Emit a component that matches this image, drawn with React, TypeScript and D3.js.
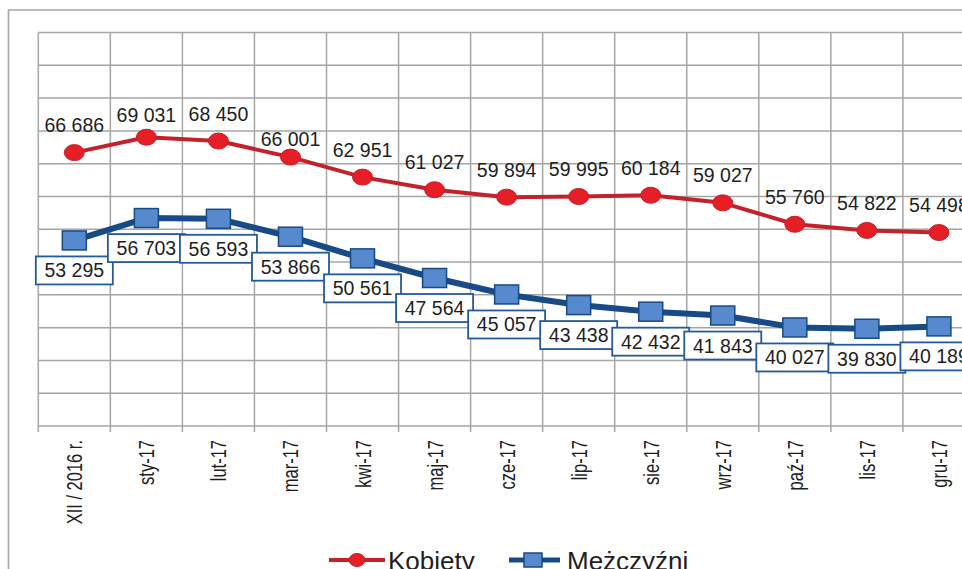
import React from 'react';
import * as d3 from 'd3';

const categories = [
  'XII / 2016 r.', 'sty-17', 'lut-17', 'mar-17', 'kwi-17', 'maj-17', 'cze-17',
  'lip-17', 'sie-17', 'wrz-17', 'paź-17', 'lis-17', 'gru-17',
];
const kobiety = [66686, 69031, 68450, 66001, 62951, 61027, 59894, 59995, 60184, 59027, 55760, 54822, 54498];
const mezczyzni = [53295, 56703, 56593, 53866, 50561, 47564, 45057, 43438, 42432, 41843, 40027, 39830, 40189];
const yGridValues = [25000, 30000, 35000, 40000, 45000, 50000, 55000, 60000, 65000, 70000, 75000, 80000, 85000];
const seriesNames = ['Kobiety', 'Mężczyźni'];
// manual label nudges (px, downward) for the Kobiety data labels
const kobietyLabelShift = [0, 5, 0, 9, 0, 0, 0, 0, 0, 0, 0, 0, 0];

const FONT = '"Liberation Sans", Arial, Helvetica, sans-serif';
const RED_LINE = '#c3212b';
const RED_FILL = '#e61f27';
const BLUE_LINE = '#184a85';
const BLUE_FILL = '#5689cd';
const GRID = '#a6a6a6';
const TEXT = '#1e1e1e';

const fmtLocale = d3.formatLocale({ decimal: ',', thousands: ' ', grouping: [3], currency: ['', ''] });
const fmt = fmtLocale.format(',d');

export default function App() {
  const W = 962;
  const H = 569;
  const left = 38.3;
  const band = 72.05;
  const top = 32.5;
  const bottom = 426;

  const x = d3.scaleBand<string>().domain(categories).range([left, left + band * categories.length]).padding(0);
  const y = d3.scaleLinear().domain([25000, 85000]).range([bottom, top]);
  const cx = (i: number) => (x(categories[i]) as number) + x.bandwidth() / 2;

  const line = d3.line<number>().x((_, i) => cx(i)).y((d) => y(d));

  const boundaries = categories.map((c) => x(c) as number).concat([x.range()[1]]);
  const xEnd = x.range()[1];

  const boxW = 77;
  const boxH = 28;

  return (
    <svg
      width={W}
      height={H}
      viewBox={`0 0 ${W} ${H}`}
      style={{ position: 'absolute', left: 0, top: 0, background: '#fff' }}
      fontFamily={FONT}
    >
      <rect x={0} y={0} width={W} height={H} fill="#fff" />
      {/* outer frame */}
      <path d={`M8.5,${H + 5} V10 H${W + 5}`} fill="none" stroke={GRID} strokeWidth={1.6} />

      {/* horizontal gridlines */}
      {yGridValues.map((v) => (
        <line key={'h' + v} x1={left} x2={xEnd} y1={y(v)} y2={y(v)} stroke={GRID} strokeWidth={1.5} />
      ))}
      {/* vertical gridlines + ticks */}
      {boundaries.map((bx, i) => (
        <line key={'v' + i} x1={bx} x2={bx} y1={top} y2={bottom + 6} stroke={GRID} strokeWidth={1.5} />
      ))}

      {/* x axis labels */}
      {categories.map((c, i) => (
        <text
          key={'xl' + i}
          transform={`translate(${cx(i) + 8},440) rotate(-90) scale(0.75,1)`}
          textAnchor="end"
          fontSize={22}
          fill={TEXT}
        >
          {c}
        </text>
      ))}

      {/* Kobiety series */}
      <path d={line(kobiety) as string} fill="none" stroke={RED_LINE} strokeWidth={4} strokeLinejoin="round" />
      {kobiety.map((v, i) => (
        <ellipse key={'rk' + i} cx={cx(i)} cy={y(v)} rx={10} ry={8} fill={RED_FILL} stroke={RED_LINE} strokeWidth={1} />
      ))}
      {kobiety.map((v, i) => (
        <text
          key={'kl' + i}
          x={cx(i)}
          y={y(v) - 20.5 + kobietyLabelShift[i]}
          textAnchor="middle"
          fontSize={19.5}
          fill={TEXT}
        >
          {fmt(v)}
        </text>
      ))}

      {/* Mężczyźni series */}
      <path d={line(mezczyzni) as string} fill="none" stroke={BLUE_LINE} strokeWidth={6} strokeLinejoin="round" />
      {mezczyzni.map((v, i) => (
        <rect
          key={'bm' + i}
          x={cx(i) - 12}
          y={y(v) - 9.5}
          width={24}
          height={19}
          fill={BLUE_FILL}
          stroke={BLUE_LINE}
          strokeWidth={1.5}
        />
      ))}
      {mezczyzni.map((v, i) => (
        <g key={'ml' + i}>
          <rect
            x={cx(i) - boxW / 2}
            y={y(v) + 16}
            width={boxW}
            height={boxH}
            fill="#fff"
            stroke="#245a9a"
            strokeWidth={1.8}
          />
          <text x={cx(i)} y={y(v) + 16 + 21} textAnchor="middle" fontSize={19.5} fill={TEXT}>
            {fmt(v)}
          </text>
        </g>
      ))}

      {/* legend */}
      <g>
        <line x1={329} x2={385} y1={560} y2={560} stroke={RED_LINE} strokeWidth={4} />
        <ellipse cx={357} cy={560} rx={8} ry={6.5} fill={RED_FILL} stroke={RED_LINE} strokeWidth={1} />
        <text x={388} y={570} fontSize={26} fill={TEXT}>{seriesNames[0]}</text>
        <line x1={509} x2={560} y1={560} y2={560} stroke={BLUE_LINE} strokeWidth={5} />
        <rect x={524} y={553} width={18} height={14} fill={BLUE_FILL} stroke={BLUE_LINE} strokeWidth={1.5} />
        <text x={567} y={570} fontSize={26} fill={TEXT}>{seriesNames[1]}</text>
      </g>
    </svg>
  );
}
